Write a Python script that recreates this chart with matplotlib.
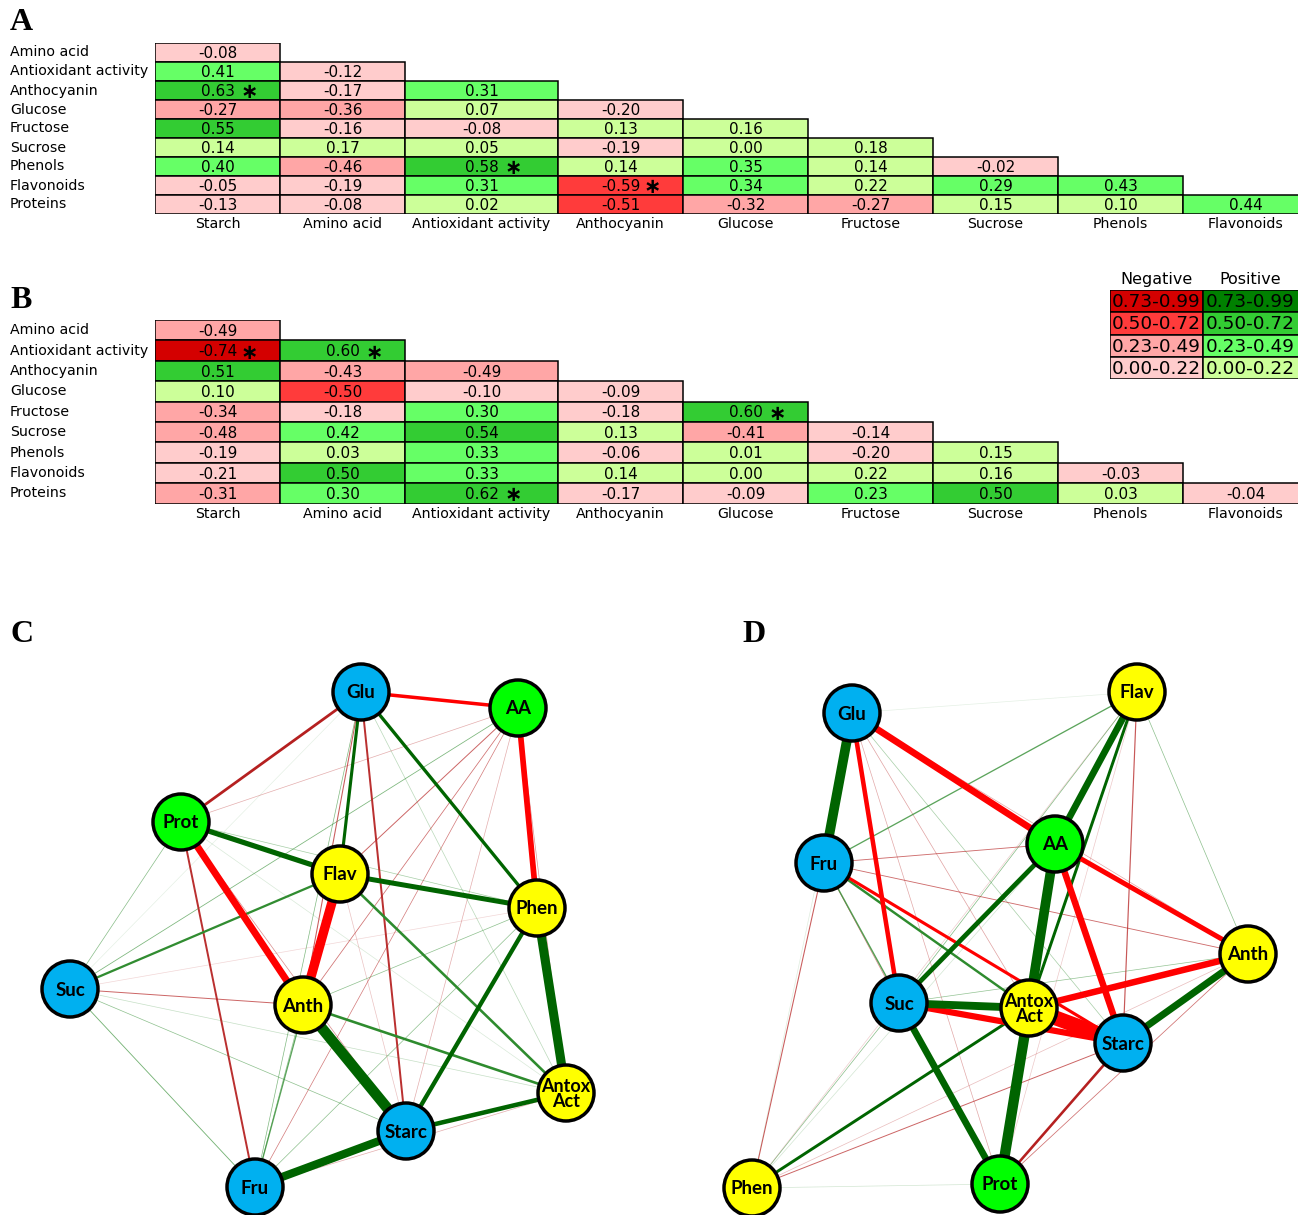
import numpy as np
import matplotlib.pyplot as plt
from matplotlib.patches import Rectangle, Circle

W, H = 1298, 1215

# ---------------- data ----------------
row_names = ["Amino acid", "Antioxidant activity", "Anthocyanin", "Glucose",
             "Fructose", "Sucrose", "Phenols", "Flavonoids", "Proteins"]
col_names = ["Starch", "Amino acid", "Antioxidant activity", "Anthocyanin",
             "Glucose", "Fructose", "Sucrose", "Phenols", "Flavonoids"]

# lower triangle, row i = row_names[i], column j = col_names[j]
corr_a = [
    [-0.08],
    [0.41, -0.12],
    [0.63, -0.17, 0.31],
    [-0.27, -0.36, 0.07, -0.20],
    [0.55, -0.16, -0.08, 0.13, 0.16],
    [0.14, 0.17, 0.05, -0.19, 0.00, 0.18],
    [0.40, -0.46, 0.58, 0.14, 0.35, 0.14, -0.02],
    [-0.05, -0.19, 0.31, -0.59, 0.34, 0.22, 0.29, 0.43],
    [-0.13, -0.08, 0.02, -0.51, -0.32, -0.27, 0.15, 0.10, 0.44],
]
sig_a = [(2, 0), (6, 2), (7, 3)]

corr_b = [
    [-0.49],
    [-0.74, 0.60],
    [0.51, -0.43, -0.49],
    [0.10, -0.50, -0.10, -0.09],
    [-0.34, -0.18, 0.30, -0.18, 0.60],
    [-0.48, 0.42, 0.54, 0.13, -0.41, -0.14],
    [-0.19, 0.03, 0.33, -0.06, 0.01, -0.20, 0.15],
    [-0.21, 0.50, 0.33, 0.14, 0.00, 0.22, 0.16, -0.03],
    [-0.31, 0.30, 0.62, -0.17, -0.09, 0.23, 0.50, 0.03, -0.04],
]
sig_b = [(1, 0), (1, 1), (8, 2), (4, 4)]

legend_ranges = ["0.73-0.99", "0.50-0.72", "0.23-0.49", "0.00-0.22"]

# network nodes (variable order = col_names + Proteins)
node_labels = ["Starc", "AA", "Antox\nAct", "Anth", "Glu", "Fru", "Suc", "Phen", "Flav", "Prot"]
node_groups = ["sugar", "nitro", "phenolic", "phenolic", "sugar", "sugar", "sugar",
               "phenolic", "phenolic", "nitro"]
# layout positions (figure pixels)
layout_c = [(406, 1131), (518, 708), (566, 1093), (303, 1005), (361, 692),
            (255, 1187), (70, 989), (537, 908), (340, 874), (181, 822)]
layout_d = [(1123, 1043), (1055, 844), (1029, 1008), (1248, 954), (852, 713),
            (824, 863), (899, 1003), (752, 1188), (1137, 692), (1000, 1184)]

# ---------------- styles ----------------
neg_colors = ["#D40000", "#FF3B3B", "#FFA6A6", "#FFCCCC"]
pos_colors = ["#008000", "#33CC33", "#66FF66", "#CCFF99"]
group_colors = {"sugar": "#00B0F0", "nitro": "#00FF00", "phenolic": "#FFFF00"}
col_w = [125, 125, 153, 125, 125, 125, 125, 125, 125]
col_edges = np.concatenate([[0], np.cumsum(col_w)])


def cell_color(v):
    a = abs(v)
    k = 0 if a >= 0.73 else 1 if a >= 0.50 else 2 if a >= 0.23 else 3
    return neg_colors[k] if v < 0 else pos_colors[k]


fig = plt.figure(figsize=(W / 100, H / 100), dpi=100)


def heatmap(top, row_h, corr, sig):
    ax = fig.add_axes([155 / W, 1 - (top + 9 * row_h) / H, (W - 155) / W, 9 * row_h / H])
    ax.set_xlim(0, W - 155)
    ax.set_ylim(9, 0)
    ax.axis("off")
    for i, row in enumerate(corr):
        ax.text(-145, i + 0.5, row_names[i], ha="left", va="center", fontsize=10.2, clip_on=False)
        for j, v in enumerate(row):
            ax.add_patch(Rectangle((col_edges[j], i), col_w[j], 1, facecolor=cell_color(v),
                                   edgecolor="black", lw=1.1))
            cx = col_edges[j] + col_w[j] / 2
            ax.text(cx, i + 0.55, f"{v:.2f}", ha="center", va="center", fontsize=11)
            if (i, j) in sig:
                ax.text(cx + 32, i + 0.6, "\u2217", ha="center", va="center",
                        fontsize=15, fontweight="bold")
    for j, name in enumerate(col_names):
        ax.text(col_edges[j] + col_w[j] / 2, 9.52, name, ha="center", va="center",
                fontsize=10.2, clip_on=False)
    return ax


heatmap(43, 19, corr_a, sig_a)
heatmap(320, 20.4, corr_b, sig_b)

# legend for B
lax = fig.add_axes([1110 / W, 1 - 379 / H, 188 / W, 89 / H])
lax.set_xlim(0, 188)
lax.set_ylim(4, 0)
lax.axis("off")
for k, rng in enumerate(legend_ranges):
    lax.add_patch(Rectangle((0, k), 93, 1, facecolor=neg_colors[k], edgecolor="black", lw=1.1))
    lax.add_patch(Rectangle((93, k), 100, 1, facecolor=pos_colors[k], edgecolor="black", lw=1.1))
    lax.text(46.5, k + 0.55, rng, ha="center", va="center", fontsize=13.3)
    lax.text(93 + 47, k + 0.55, rng, ha="center", va="center", fontsize=13.3, clip_on=True)
lax.text(46.5, -0.45, "Negative", ha="center", va="center", fontsize=11.5)
lax.text(140, -0.45, "Positive", ha="center", va="center", fontsize=11.5)

# ---------------- networks ----------------
nax = fig.add_axes([0, 0, 1, 1], facecolor="none")
nax.set_xlim(0, W)
nax.set_ylim(H, 0)
nax.axis("off")


def network(corr, layout):
    edges = []
    for i, row in enumerate(corr):
        for j, v in enumerate(row):
            edges.append((abs(v), i + 1, j, v))
    edges.sort()
    for a, p, q, v in edges:
        (x1, y1), (x2, y2) = layout[p], layout[q]
        width_px = max(0.7, 27 * v ** 2)
        alpha = min(1.0, 0.12 + 3.0 * a)
        if v < 0:
            color = "#FF0000" if a >= 0.33 else "#B52020"
        else:
            color = "#006400" if a >= 0.33 else "#2E8B2E"
        nax.plot([x1, x2], [y1, y2], color=color, lw=width_px * 0.72, alpha=alpha,
                 solid_capstyle="butt", zorder=1)
    for lab, grp, (x, y) in zip(node_labels, node_groups, layout):
        nax.add_patch(Circle((x, y), 28, facecolor=group_colors[grp], edgecolor="black",
                             lw=2.5, zorder=3))
        nax.text(x, y + 1, lab, ha="center", va="center", fontsize=13.5 if "\n" not in lab else 13,
                 fontweight="bold", family=["Lato", "DejaVu Sans"], linespacing=0.8, zorder=4)


network(corr_a, layout_c)
network(corr_b, layout_d)

# panel letters
for letter, (px, py) in zip("ABCD", [(10, 22), (10, 300), (10, 634), (742, 634)]):
    fig.text(px / W, 1 - py / H, letter, ha="left", va="center", fontsize=23,
             fontweight="bold", family="Liberation Serif")

fig.savefig("out.png", dpi=100)
